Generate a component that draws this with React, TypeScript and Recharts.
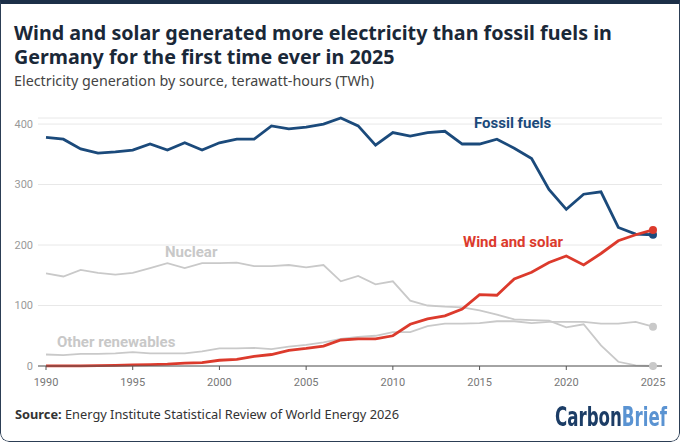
import React from 'react';
import { LineChart, Line, XAxis, YAxis, CartesianGrid } from 'recharts';

const years = [
  1990, 1991, 1992, 1993, 1994, 1995, 1996, 1997, 1998, 1999, 2000, 2001, 2002, 2003, 2004, 2005, 2006, 2007,
  2008, 2009, 2010, 2011, 2012, 2013, 2014, 2015, 2016, 2017, 2018, 2019, 2020, 2021, 2022, 2023, 2024, 2025,
];
const fossil = [
  378, 375, 359, 352, 354, 357, 367, 357, 369, 357, 369, 375, 375, 397, 392, 395, 400, 410,
  397, 365, 386, 380, 386, 388, 367, 367, 375, 360, 343, 292, 259, 284, 288, 229, 218, 217,
];
const windSolar = [
  0.1, 0.2, 0.3, 0.7, 1, 1.7, 2.2, 3, 4.6, 5.6, 9.5, 11, 16, 19, 26, 29, 33, 43,
  45, 45, 50, 69, 78, 83, 94, 118, 117, 144, 155, 171, 182, 167, 186, 207, 217, 225,
];
const nuclear = [
  153, 148, 159, 154, 151, 154, 162, 170, 162, 170, 170, 171, 165, 165, 167, 163, 167, 140,
  149, 135, 140, 108, 100, 98, 97, 92, 85, 77, 76, 75, 64, 69, 34, 7, 1, 0,
];
const otherRenewables = [
  19, 18, 20, 20, 21, 23, 21, 21, 21, 24, 29, 29, 30, 28, 32, 35, 39, 45,
  48, 50, 56, 56, 66, 70, 70, 71, 74, 74, 71, 73, 73, 73, 70, 70, 73, 65,
];
const xTicks = [1990, 1995, 2000, 2005, 2010, 2015, 2020, 2025];
const yTicks = [0, 100, 200, 300, 400];

const data = years.map((year, i) => ({
  year,
  fossil: fossil[i],
  windSolar: windSolar[i],
  nuclear: nuclear[i],
  other: otherRenewables[i],
}));

// only the 2025 point gets a dot
const lastDot = (color: string) => (props: any) => {
  const { cx, cy, index } = props;
  if (index !== years.length - 1) return <g key={`d-${index}`} />;
  return <circle key={`d-${index}`} cx={cx} cy={cy} r={4} fill={color} stroke="none" />;
};

const NAVY = '#1b4a7b';
const RED = '#dc3a2c';
const GREY = '#c9c9c9';
const LOGO_FONT = '"Liberation Sans Narrow", "DejaVu Sans Condensed"';

const label = (top: number, left: number, color: string): React.CSSProperties => ({
  position: 'absolute',
  top,
  left,
  fontFamily: 'Roboto',
  fontWeight: 700,
  fontSize: 15,
  color,
  whiteSpace: 'nowrap',
});

export default function App() {
  return (
    <div
      style={{
        position: 'fixed',
        top: 0,
        left: 0,
        width: 680,
        height: 442,
        background: '#fff',
        overflow: 'hidden',
        borderRadius: '0 0 9px 9px',
        fontFamily: '"Noto Sans", sans-serif',
      }}
    >
      <div style={{ position: 'absolute', left: 14, top: 21, width: 660, fontSize: 19.7, fontWeight: 700, color: '#1a2838', lineHeight: '24px' }}>
        Wind and solar generated more electricity than fossil fuels in Germany for the first time ever in 2025
      </div>
      <div style={{ position: 'absolute', left: 14, top: 72, fontSize: 14.3, color: '#444', lineHeight: '18px', whiteSpace: 'nowrap' }}>
        Electricity generation by source, terawatt-hours (TWh)
      </div>
      <div style={{ position: 'absolute', left: 0, top: 0 }}>
        <LineChart width={680} height={442} data={data} margin={{ top: 118, right: 18, bottom: 0, left: 0 }}>
          <CartesianGrid vertical={false} stroke="#e8e8e8" />
          <XAxis
            dataKey="year"
            type="number"
            domain={[1990, 2025]}
            ticks={xTicks}
            padding={{ left: 8, right: 9 }}
            height={76}
            stroke="#555"
            tickSize={4}
            tickMargin={8}
            tick={{ fontSize: 11, fill: '#777', fontFamily: 'Roboto' }}
          />
          <YAxis
            domain={[0, 400]}
            ticks={yTicks}
            width={38}
            axisLine={false}
            tickLine={false}
            tickSize={5}
            tickMargin={0}
            tick={{ fontSize: 11, fill: '#999', fontFamily: 'Roboto' }}
          />
          <Line dataKey="other" stroke={GREY} strokeWidth={1.8} dot={lastDot(GREY)} isAnimationActive={false} />
          <Line dataKey="nuclear" stroke={GREY} strokeWidth={1.8} dot={lastDot(GREY)} isAnimationActive={false} />
          <Line dataKey="fossil" stroke={NAVY} strokeWidth={2.8} dot={lastDot(NAVY)} isAnimationActive={false} />
          <Line dataKey="windSolar" stroke={RED} strokeWidth={2.8} dot={lastDot(RED)} isAnimationActive={false} />
        </LineChart>
      </div>
      <div style={label(114, 474, NAVY)}>Fossil fuels</div>
      <div style={label(233, 463, RED)}>Wind and solar</div>
      <div style={label(243, 165, '#c8c8c8')}>Nuclear</div>
      <div style={label(333, 57, '#c8c8c8')}>Other renewables</div>
      <div style={{ position: 'absolute', left: 15, top: 405, fontSize: 12.8, color: '#333', whiteSpace: 'nowrap' }}>
        <b>Source:</b> Energy Institute Statistical Review of World Energy 2026
      </div>
      <svg style={{ position: 'absolute', left: 555, top: 396 }} width={125} height={40}>
        <g transform="translate(0,30) scale(1,1.2)">
          <text x={0} y={0} fontFamily={LOGO_FONT} fontWeight={700} fontSize={22.5} textLength={112} lengthAdjust="spacingAndGlyphs">
            <tspan fill="#1c3d66">Carbon</tspan>
            <tspan fill="#5a93d2">Brief</tspan>
          </text>
        </g>
      </svg>
      <div
        style={{
          position: 'absolute',
          inset: 0,
          boxSizing: 'border-box',
          borderTop: '4px solid #1c2f48',
          borderLeft: '1.5px solid #2c3e55',
          borderRight: '1.5px solid #2c3e55',
          borderBottom: '1.5px solid #2c3e55',
          borderRadius: '0 0 9px 9px',
          pointerEvents: 'none',
        }}
      />
    </div>
  );
}
